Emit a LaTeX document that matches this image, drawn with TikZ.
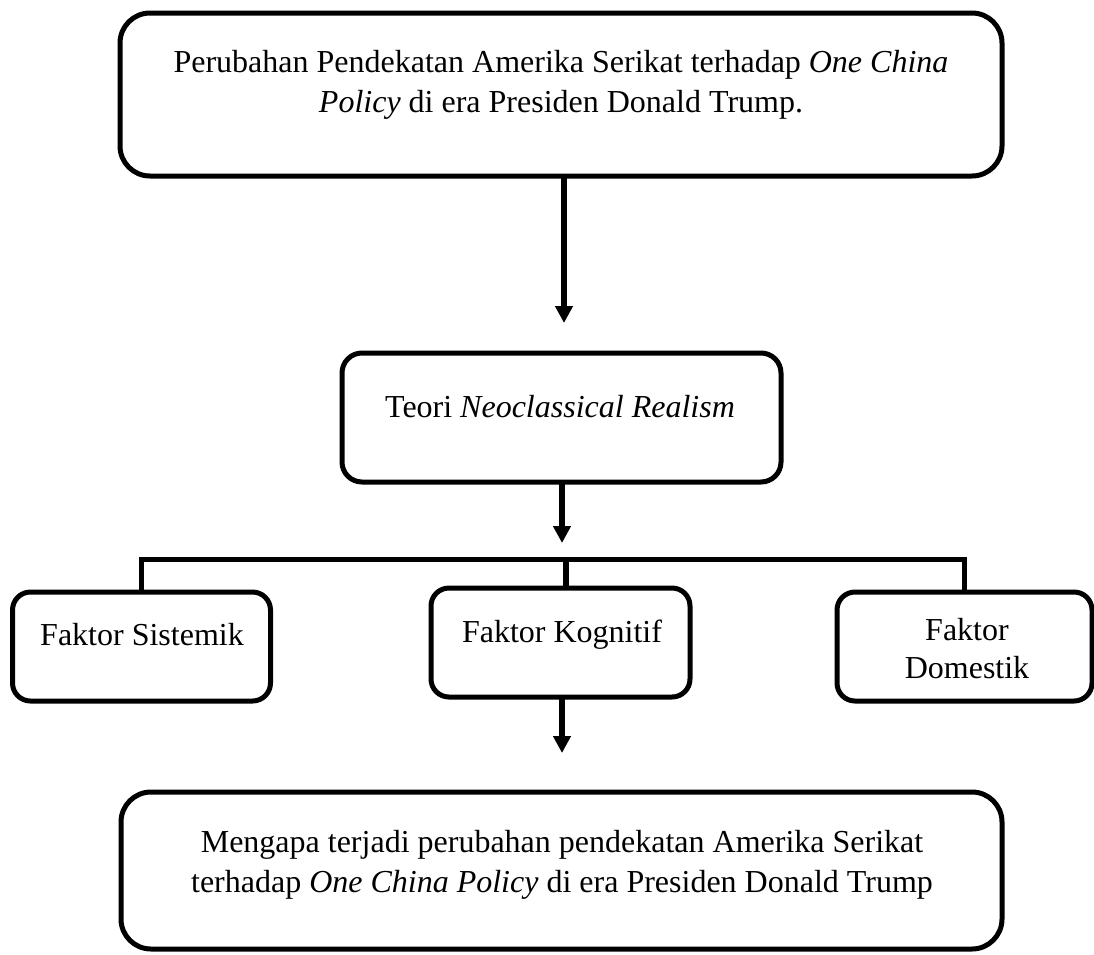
\documentclass[tikz,border=0pt]{standalone}
\usepackage{fontspec}
\setmainfont{Liberation Serif}
\usetikzlibrary{arrows.meta}
\begin{document}
\begin{tikzpicture}[x=1pt,y=-1pt,
  box/.style={draw=black, line width=5pt, rounded corners=#1, inner sep=0pt, outer sep=0pt, fill=white},
  txt/.style={font=\fontsize{32}{40}\selectfont, inner sep=0pt, outer sep=0pt, anchor=base},
  conn/.style={draw=black, line width=5.5pt, line join=miter},
  arr/.style={conn, -{Triangle[length=17pt,width=17pt]}}]
\useasboundingbox (0,0) rectangle (1094,954);
% boxes
\node[box=30pt, minimum width=882pt, minimum height=163pt] (b1) at (561,94.5) {};
\node[box=20pt, minimum width=439pt, minimum height=129pt] (b2) at (561.5,417.5) {};
\node[box=18pt, minimum width=258pt, minimum height=109pt] (s) at (141.5,646.5) {};
\node[box=18pt, minimum width=259pt, minimum height=109pt] (k) at (560.5,642.5) {};
\node[box=18pt, minimum width=255pt, minimum height=109pt] (d) at (964.5,646.5) {};
\node[box=30pt, minimum width=881pt, minimum height=157pt] (b5) at (561.5,870.5) {};
% texts
\node[txt] (t1a) at (561,72) {Perubahan Pendekatan Amerika Serikat terhadap \textit{One China}};
\node[txt] (t1b) at (561,112) {\textit{Policy} di era Presiden Donald Trump.};
\node[txt] (t2) at (560,417) {Teori \textit{Neoclassical Realism}};
\node[txt] (ts) at (142,645) {Faktor Sistemik};
\node[txt] (tk) at (562,642) {Faktor Kognitif};
\node[txt] (td1) at (967,640) {Faktor};
\node[txt] (td2) at (967,678) {Domestik};
\node[txt] (t5a) at (562,852) {Mengapa terjadi perubahan pendekatan Amerika Serikat};
\node[txt] (t5b) at (562,892) {terhadap \textit{One China Policy} di era Presiden Donald Trump};
% connector points
\coordinate (a1) at (564,323);
\coordinate (a2) at (562,543);
\coordinate (a3) at (562,753);
\coordinate (bar) at (566,559.5);
% arrows
\draw[arr] (a1 |- b1.south) -- (a1);
\draw[arr] (a2 |- b2.south) -- (a2);
\draw[arr] (a3 |- k.south) -- (a3);
% bracket
\draw[conn] (s.north) -- (s.north |- bar) -- (d.north |- bar) -- (d.north);
\draw[conn] (bar) -- (bar |- k.north);
\end{tikzpicture}
\end{document}
